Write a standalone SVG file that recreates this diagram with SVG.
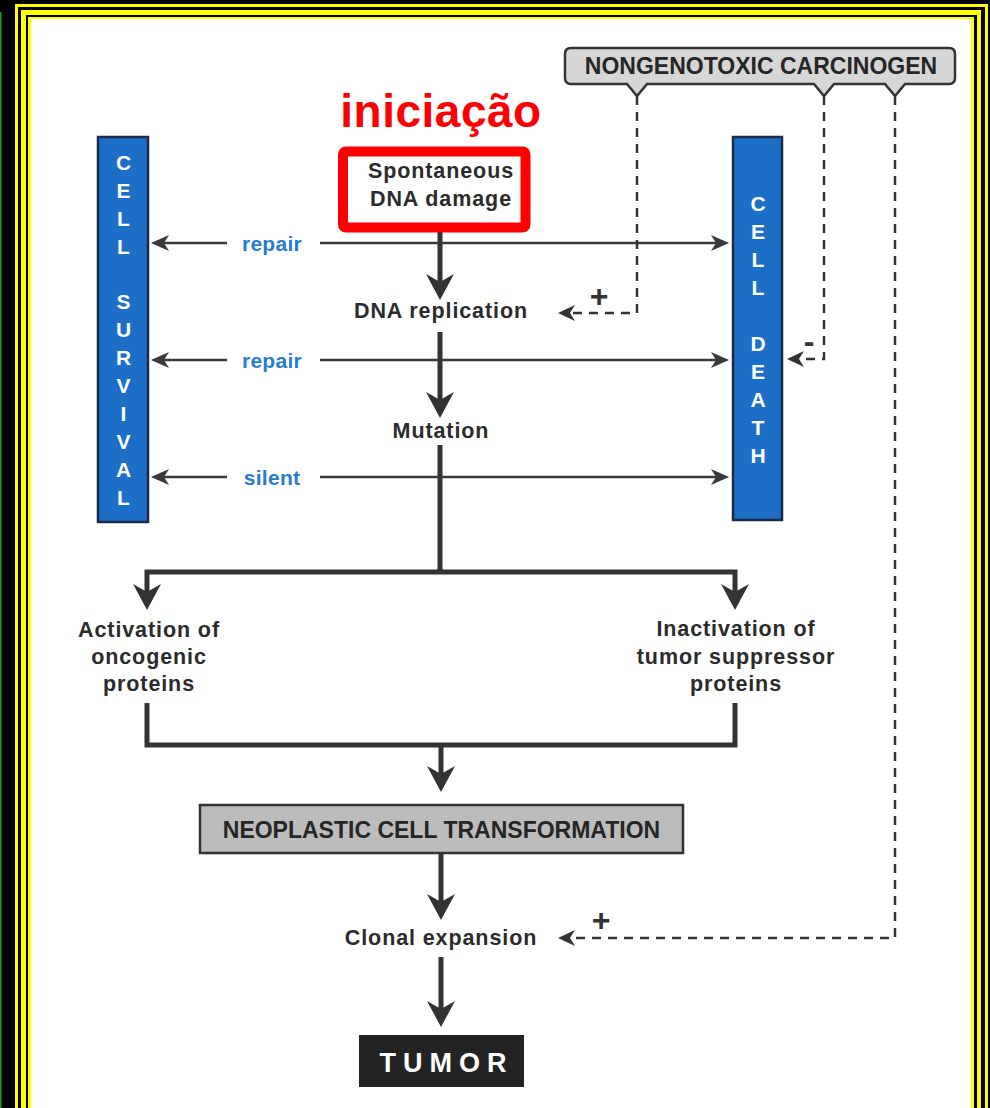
<svg xmlns="http://www.w3.org/2000/svg" width="990" height="1108" viewBox="0 0 990 1108">
  <style>
    .lbl { font-family: "Liberation Sans", Arial, sans-serif; font-weight: bold; fill: #2b2b2b; font-size: 21.5px; letter-spacing: 0.9px; text-anchor: middle; }
    .blue { font-family: "Liberation Sans", Arial, sans-serif; font-weight: bold; fill: #2a7ccc; font-size: 21px; letter-spacing: 0.3px; text-anchor: middle; }
    .bar { fill: #1c6ec6; stroke: #1e2a44; stroke-width: 2.5; }
    .barTxt { font-family: "Liberation Sans", Arial, sans-serif; font-weight: bold; fill: #ffffff; font-size: 21px; text-anchor: middle; }
    .caps { font-family: "Liberation Sans", Arial, sans-serif; font-weight: bold; fill: #262626; font-size: 23px; text-anchor: middle; }
    .sign { font-family: "Liberation Sans", Arial, sans-serif; font-weight: bold; fill: #333333; font-size: 32px; text-anchor: middle; }
    .thick { fill: none; stroke: #333333; stroke-width: 5; }
    .thin { fill: none; stroke: #3a3a3a; stroke-width: 2.5; }
    .dash { fill: none; stroke: #333333; stroke-width: 2.5; stroke-dasharray: 9 7; }
  </style>
  <defs>
    <marker id="ahThick" viewBox="0 0 26 28" refX="12" refY="14" markerWidth="26" markerHeight="28" markerUnits="userSpaceOnUse" orient="auto">
      <path d="M0,0 L26,14 L0,28 L8,14 Z" fill="#333333"/>
    </marker>
    <marker id="ahThin" viewBox="0 0 18 16" refX="10" refY="8" markerWidth="18" markerHeight="16" markerUnits="userSpaceOnUse" orient="auto">
      <path d="M0,0 L18,8 L0,16 L5,8 Z" fill="#3a3a3a"/>
    </marker>
    <marker id="ahDash" viewBox="0 0 17 16" refX="9" refY="8" markerWidth="17" markerHeight="16" markerUnits="userSpaceOnUse" orient="auto">
      <path d="M0,0 L17,8 L0,16 L5,8 Z" fill="#333333"/>
    </marker>
  </defs>

  <!-- striped frame -->
  <g id="frame">
    <rect x="0" y="0" width="990" height="1108" fill="#000000"/>
    <rect x="0" y="12" width="1.5" height="1096" fill="#1f9a2a"/>
    <rect x="15" y="4" width="973" height="1110" fill="#ffff00"/>
    <rect x="18" y="7" width="967" height="1110" fill="#000000"/>
    <rect x="21" y="10" width="960" height="1110" fill="#ffff00"/>
    <rect x="26" y="15" width="951" height="1110" fill="#000000"/>
    <rect x="28" y="17" width="946" height="1110" fill="#ffff00"/>
    <rect x="31" y="19" width="940" height="1110" fill="#ffffff"/>
  </g>

  <!-- connectors -->
  <g id="connectors">
    <!-- main pathway -->
    <path class="thick" d="M440,216 V286" marker-end="url(#ahThick)"/>
    <path class="thick" d="M440,332 V404" marker-end="url(#ahThick)"/>
    <path class="thick" d="M440,445 V572"/>
    <path class="thick" d="M147,596 V572 H735 V596"/>
    <path class="thick" d="M147,595 V596" marker-end="url(#ahThick)"/>
    <path class="thick" d="M735,595 V596" marker-end="url(#ahThick)"/>
    <path class="thick" d="M147,703 V745 H735 V703"/>
    <path class="thick" d="M441,745 V778" marker-end="url(#ahThick)"/>
    <path class="thick" d="M441,853 V906" marker-end="url(#ahThick)"/>
    <path class="thick" d="M441,957 V1013" marker-end="url(#ahThick)"/>

    <!-- survival / death branches -->
    <path class="thin" d="M227,243 H159" marker-end="url(#ahThin)"/>
    <path class="thin" d="M320,243 H721" marker-end="url(#ahThin)"/>
    <path class="thin" d="M227,360 H159" marker-end="url(#ahThin)"/>
    <path class="thin" d="M320,360 H721" marker-end="url(#ahThin)"/>
    <path class="thin" d="M227,477 H159" marker-end="url(#ahThin)"/>
    <path class="thin" d="M320,477 H721" marker-end="url(#ahThin)"/>

    <!-- carcinogen influences -->
    <path class="dash" d="M637,96 V313 H566" marker-end="url(#ahDash)"/>
    <path class="dash" d="M824,96 V359 H795" marker-end="url(#ahDash)"/>
    <path class="dash" d="M895,96 V938 H566" marker-end="url(#ahDash)"/>

    <text class="blue" x="272" y="250.5">repair</text>
    <text class="blue" x="272" y="367.5">repair</text>
    <text class="blue" x="272" y="484.5">silent</text>

    <text class="sign" x="599" y="307">+</text>
    <text class="sign" x="809" y="352" font-size="44">-</text>
    <text class="sign" x="601" y="931">+</text>
  </g>

  <g id="title">
    <text x="441" y="127" font-family="Liberation Sans, Arial, sans-serif" font-weight="bold" font-size="46" letter-spacing="0.5" fill="#ff0000" text-anchor="middle">iniciação</text>
  </g>

  <g id="carcinogen">
    <path d="M571,48 H949 Q955,48 955,54 V78 Q955,84 949,84 H905 L895,96 L885,84 H834 L824,96 L814,84 H647 L637,96 L627,84 H571 Q565,84 565,78 V54 Q565,48 571,48 Z" fill="#d6d6d6" stroke="#333333" stroke-width="2.5"/>
    <text class="caps" x="761" y="74">NONGENOTOXIC CARCINOGEN</text>
  </g>

  <g id="cell-survival">
    <rect class="bar" x="98" y="137" width="50" height="385"/>
    <text class="barTxt" x="123.5" y="169.5">C</text>
    <text class="barTxt" x="123.5" y="197.5">E</text>
    <text class="barTxt" x="123.5" y="225.5">L</text>
    <text class="barTxt" x="123.5" y="253.5">L</text>
    <text class="barTxt" x="123.5" y="309">S</text>
    <text class="barTxt" x="123.5" y="337">U</text>
    <text class="barTxt" x="123.5" y="365">R</text>
    <text class="barTxt" x="123.5" y="392.5">V</text>
    <text class="barTxt" x="123.5" y="420.5">I</text>
    <text class="barTxt" x="123.5" y="448.5">V</text>
    <text class="barTxt" x="123.5" y="476.5">A</text>
    <text class="barTxt" x="123.5" y="504.5">L</text>
  </g>

  <g id="cell-death">
    <rect class="bar" x="733" y="137" width="49" height="383"/>
    <text class="barTxt" x="758" y="211">C</text>
    <text class="barTxt" x="758" y="239">E</text>
    <text class="barTxt" x="758" y="267">L</text>
    <text class="barTxt" x="758" y="295">L</text>
    <text class="barTxt" x="758" y="351">D</text>
    <text class="barTxt" x="758" y="379">E</text>
    <text class="barTxt" x="758" y="407">A</text>
    <text class="barTxt" x="758" y="435">T</text>
    <text class="barTxt" x="758" y="463">H</text>
  </g>

  <g id="dna-damage">
    <rect x="343" y="151.5" width="182.5" height="76" rx="3" fill="#ffffff" stroke="#ff0000" stroke-width="10"/>
    <text class="lbl" x="441" y="177.5">Spontaneous</text>
    <text class="lbl" x="441" y="206">DNA damage</text>
  </g>

  <g id="dna-replication">
    <text class="lbl" x="441" y="317.5">DNA replication</text>
  </g>

  <g id="mutation">
    <text class="lbl" x="441" y="437.5">Mutation</text>
  </g>

  <g id="oncogenic">
    <text class="lbl" x="149" y="636.5">Activation of</text>
    <text class="lbl" x="149" y="663.5">oncogenic</text>
    <text class="lbl" x="149" y="690.5">proteins</text>
  </g>

  <g id="suppressor">
    <text class="lbl" x="736" y="635.5">Inactivation of</text>
    <text class="lbl" x="736" y="663.5">tumor suppressor</text>
    <text class="lbl" x="736" y="690.5">proteins</text>
  </g>

  <g id="transformation">
    <rect x="200" y="805" width="483" height="48" fill="#bcbcbc" stroke="#333333" stroke-width="2.5"/>
    <text class="caps" x="441.5" y="838">NEOPLASTIC CELL TRANSFORMATION</text>
  </g>

  <g id="clonal-expansion">
    <text class="lbl" x="441" y="944.5">Clonal expansion</text>
  </g>

  <g id="tumor">
    <rect x="359" y="1035" width="165" height="52" fill="#232323"/>
    <text x="446.5" y="1072" font-family="Liberation Sans, Arial, sans-serif" font-weight="bold" font-size="27" letter-spacing="7" fill="#ffffff" text-anchor="middle">TUMOR</text>
  </g>
</svg>
